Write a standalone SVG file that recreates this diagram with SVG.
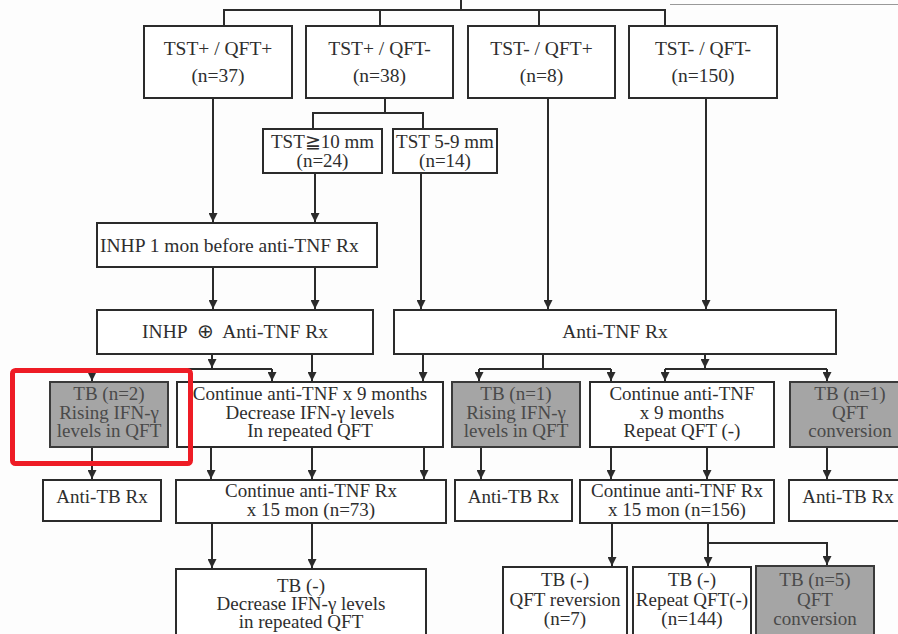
<svg xmlns="http://www.w3.org/2000/svg" width="898" height="634" viewBox="0 0 898 634">
<style>
.bx{fill:#fff;stroke:#2b2b2b;stroke-width:2}
.gy{fill:#a5a5a5;stroke:#3a3a3a;stroke-width:2}
.t{font-family:"Liberation Serif","Times New Roman",serif;font-size:19px;fill:#2e2e2e;text-anchor:middle}
.tb{font-size:19.5px}
.tg{fill:#4a4a4a}
.c{fill:none;stroke:#2b2b2b;stroke-width:2}
.a{marker-end:url(#ah)}
</style>
<defs>
<marker id="ah" viewBox="0 0 10 10" refX="10" refY="5" markerWidth="10" markerHeight="9" markerUnits="userSpaceOnUse" orient="auto">
<path d="M0,0 L10,5 L0,10 z" fill="#2b2b2b"/>
</marker>
</defs>
<rect width="898" height="634" fill="#fdfdfd"/>
<line x1="670" y1="4.5" x2="898" y2="4.5" stroke="#999" stroke-width="1"/>
<g id="connectors">
<path class="c" d="M461,0 V10 M224,26 V10 H665 V26 M380,10 V26 M539,10 V26"/>
<path class="c" d="M385,98 V113 M313,129 V113 H423 V129"/>
<path class="c a" d="M213,98 V222"/>
<path class="c a" d="M315,173 V222"/>
<path class="c a" d="M421,173 V309"/>
<path class="c a" d="M548,98 V309"/>
<path class="c a" d="M706,98 V309"/>
<path class="c a" d="M213,267 V309"/>
<path class="c a" d="M315,267 V309"/>
<path class="c a" d="M212,354 V368"/>
<path class="c" d="M92,369 H272"/>
<path class="c a" d="M92,369 V381"/>
<path class="c a" d="M272,369 V381"/>
<path class="c a" d="M312,354 V381"/>
<path class="c a" d="M423,354 V381"/>
<path class="c" d="M543,354 V369 M479,369 H611"/>
<path class="c a" d="M479,369 V381"/>
<path class="c a" d="M611,369 V381"/>
<path class="c a" d="M705,354 V368"/>
<path class="c" d="M665,369 H827"/>
<path class="c a" d="M665,369 V381"/>
<path class="c a" d="M827,369 V381"/>
<path class="c a" d="M92,447 V479"/>
<path class="c a" d="M211,447 V479"/>
<path class="c a" d="M312,447 V479"/>
<path class="c a" d="M424,447 V479"/>
<path class="c a" d="M481,447 V479"/>
<path class="c a" d="M611,447 V479"/>
<path class="c a" d="M707,447 V479"/>
<path class="c a" d="M827,447 V479"/>
<path class="c a" d="M212,523 V568"/>
<path class="c a" d="M312,523 V568"/>
<path class="c a" d="M612,523 V566"/>
<path class="c a" d="M708,523 V566"/>
<path class="c a" d="M708,543 H827 V565"/>
</g>
<g id="n1"><rect class="bx" x="144" y="26" width="148" height="72"/><text class="t tb" x="218" y="55">TST+ / QFT+</text><text class="t tb" x="218" y="82">(n=37)</text></g>
<g id="n2"><rect class="bx" x="306" y="26" width="147" height="72"/><text class="t tb" x="379.5" y="55">TST+ / QFT-</text><text class="t tb" x="379.5" y="82">(n=38)</text></g>
<g id="n3"><rect class="bx" x="468" y="26" width="147" height="72"/><text class="t tb" x="541.5" y="55">TST- / QFT+</text><text class="t tb" x="541.5" y="82">(n=8)</text></g>
<g id="n4"><rect class="bx" x="629" y="26" width="148" height="72"/><text class="t tb" x="703" y="55">TST- / QFT-</text><text class="t tb" x="703" y="82">(n=150)</text></g>
<g id="tst10"><rect class="bx" x="263" y="129" width="119" height="44"/><text class="t" x="322.5" y="148">TST≧10 mm</text><text class="t" x="322.5" y="167">(n=24)</text></g>
<g id="tst59"><rect class="bx" x="393" y="129" width="104" height="44"/><text class="t" x="445" y="148">TST 5-9 mm</text><text class="t" x="445" y="167">(n=14)</text></g>
<g id="inhp1"><rect class="bx" x="97" y="223" width="280" height="44"/><text class="t tb" x="100" y="252" style="text-anchor:start">INHP 1 mon before anti-TNF Rx</text></g>
<g id="inhpplus"><rect class="bx" x="97" y="310" width="276" height="44"/><text class="t tb" x="235" y="338" xml:space="preserve">INHP  ⊕  Anti-TNF Rx</text></g>
<g id="antitnf"><rect class="bx" x="394" y="310" width="442" height="44"/><text class="t tb" x="615" y="338">Anti-TNF Rx</text></g>
<g id="tb2"><rect class="gy" x="50" y="382" width="118" height="65"/><text class="t tg" x="109" y="400">TB (n=2)</text><text class="t tg" x="109" y="418.5">Rising IFN-γ</text><text class="t tg" x="109" y="437">levels in QFT</text></g>
<g id="cont9a"><rect class="bx" x="177" y="382" width="266" height="65"/><text class="t" x="310" y="400">Continue anti-TNF x 9 months</text><text class="t" x="310" y="418.5">Decrease IFN-γ levels</text><text class="t" x="310" y="437">In repeated QFT</text></g>
<g id="tb1a"><rect class="gy" x="452" y="382" width="128" height="65"/><text class="t tg" x="516" y="400">TB (n=1)</text><text class="t tg" x="516" y="418.5">Rising IFN-γ</text><text class="t tg" x="516" y="437">levels in QFT</text></g>
<g id="cont9b"><rect class="bx" x="590" y="382" width="184" height="65"/><text class="t" x="682" y="400">Continue anti-TNF</text><text class="t" x="682" y="418.5">x 9 months</text><text class="t" x="682" y="437">Repeat QFT (-)</text></g>
<g id="tb1b"><rect class="gy" x="790" y="382" width="120" height="65"/><text class="t tg" x="850" y="400">TB (n=1)</text><text class="t tg" x="850" y="418.5">QFT</text><text class="t tg" x="850" y="437">conversion</text></g>
<g id="antitb1"><rect class="bx" x="43" y="480" width="118" height="41"/><text class="t" x="102" y="503">Anti-TB Rx</text></g>
<g id="cont15a"><rect class="bx" x="176" y="480" width="270" height="43"/><text class="t" x="311" y="497">Continue anti-TNF Rx</text><text class="t" x="311" y="516">x 15 mon (n=73)</text></g>
<g id="antitb2"><rect class="bx" x="455" y="480" width="117" height="41"/><text class="t" x="513.5" y="503">Anti-TB Rx</text></g>
<g id="cont15b"><rect class="bx" x="580" y="480" width="194" height="43"/><text class="t" x="677" y="497">Continue anti-TNF Rx</text><text class="t" x="677" y="516">x 15 mon (n=156)</text></g>
<g id="antitb3"><rect class="bx" x="789" y="480" width="120" height="41"/><text class="t" x="848" y="503">Anti-TB Rx</text></g>
<g id="tbneg1"><rect class="bx" x="176" y="569" width="250" height="70"/><text class="t" x="301" y="592">TB (-)</text><text class="t" x="301" y="610">Decrease IFN-γ levels</text><text class="t" x="301" y="628">in repeated QFT</text></g>
<g id="tbrev"><rect class="bx" x="503" y="567" width="124" height="70"/><text class="t" x="565" y="586">TB (-)</text><text class="t" x="565" y="606">QFT reversion</text><text class="t" x="565" y="625">(n=7)</text></g>
<g id="tbrep"><rect class="bx" x="633" y="567" width="118" height="70"/><text class="t" x="692" y="586">TB (-)</text><text class="t" x="692" y="606">Repeat QFT(-)</text><text class="t" x="692" y="625">(n=144)</text></g>
<g id="tb5"><rect class="gy" x="756" y="566" width="118" height="70"/><text class="t tg" x="815" y="586">TB (n=5)</text><text class="t tg" x="815" y="606">QFT</text><text class="t tg" x="815" y="625">conversion</text></g>
<rect id="highlight" x="12.5" y="370.5" width="178" height="93" rx="3" fill="none" stroke="#ee1c25" stroke-width="5"/>
</svg>
